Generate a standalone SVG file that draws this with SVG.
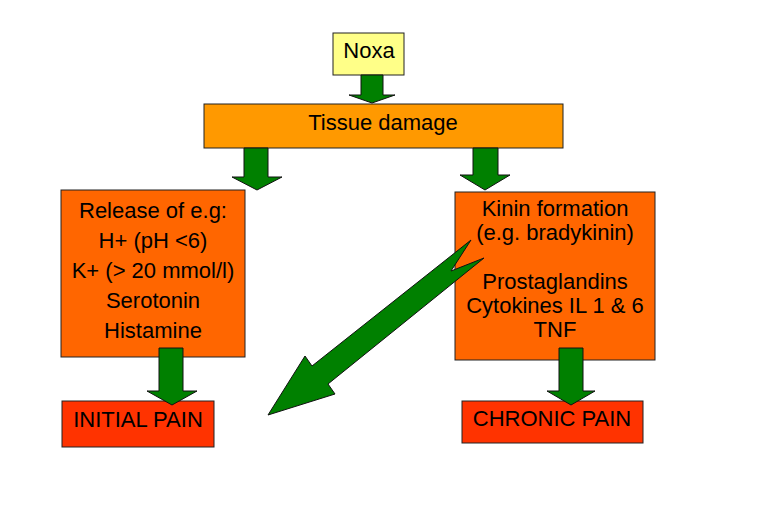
<svg xmlns="http://www.w3.org/2000/svg" width="768" height="529" viewBox="0 0 768 529">
<style>
.box{stroke:#222;stroke-width:1}
.t{font-family:"Liberation Sans",Arial,sans-serif;font-size:22px;fill:#000;text-anchor:middle}
.arr{fill:#008000;stroke:#111;stroke-width:1;stroke-linejoin:miter}
</style>
<rect width="768" height="529" fill="#fff"/>
<g id="noxa"><rect class="box" x="333" y="33" width="71" height="42" fill="#ffff88"/><text class="t" x="369" y="58">Noxa</text></g>
<g id="tissue"><rect class="box" x="204" y="104" width="359" height="44" fill="#ff9900"/><text class="t" x="383" y="130">Tissue damage</text></g>
<g id="release"><rect class="box" x="61" y="190" width="184" height="167" fill="#ff6600"/>
<text class="t" x="153" y="218">Release of e.g:</text>
<text class="t" x="153" y="248">H+ (pH &lt;6)</text>
<text class="t" x="153" y="278">K+ (&gt; 20 mmol/l)</text>
<text class="t" x="153" y="308">Serotonin</text>
<text class="t" x="153" y="338">Histamine</text></g>
<g id="kinin"><rect class="box" x="455" y="192" width="200" height="168" fill="#ff6600"/>
<text class="t" x="555" y="216">Kinin formation</text>
<text class="t" x="555" y="240">(e.g. bradykinin)</text>
<text class="t" x="555" y="289">Prostaglandins</text>
<text class="t" x="555" y="313">Cytokines IL 1 &amp; 6</text>
<text class="t" x="555" y="337">TNF</text></g>
<g id="initial"><rect class="box" x="62" y="401" width="152" height="46" fill="#ff3300"/><text class="t" x="138" y="427">INITIAL PAIN</text></g>
<g id="chronic"><rect class="box" x="462" y="401" width="181" height="42" fill="#ff3300"/><text class="t" x="552" y="426">CHRONIC PAIN</text></g>
<g id="connectors">
<polygon class="arr" points="361,75 383,75 383,95 395,95 372,103 349,95 361,95"/>
<polygon class="arr" points="244,148 268,148 268,177 282,177 257,190 232,177 244,177"/>
<polygon class="arr" points="473,148 498,148 498,175 510,175 485,190 460,175 473,175"/>
<polygon class="arr" points="159,348 183,348 183,391 197,391 172,405 147,391 159,391"/>
<polygon class="arr" points="559,348 583,348 583,391 595,391 571,405 547,391 559,391"/>
<polygon class="arr" points="268,415 305,356 312,366 471,240 451,271 484,258 328,384 335,394"/>
</g>
</svg>
